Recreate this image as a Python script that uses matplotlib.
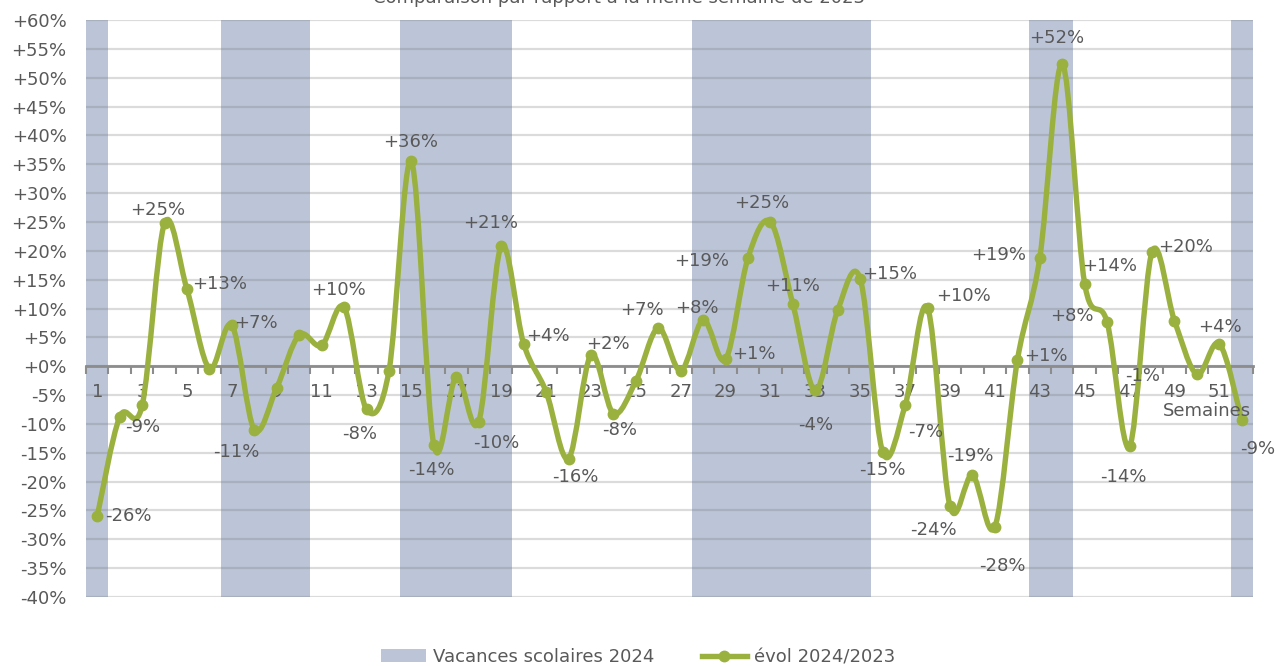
import matplotlib
matplotlib.use('Agg')
import matplotlib.pyplot as plt
from matplotlib.path import Path
from matplotlib.patches import PathPatch, Patch
from matplotlib.lines import Line2D
import numpy as np

# weekly change 2024 vs 2023 (%)
weeks = list(range(1, 53))
evol = [-26, -8.8, -6.8, 24.8, 13.3, -0.4, 7.1, -11.0, -3.7, 5.4,
        3.6, 10.2, -7.5, -0.8, 35.5, -13.7, -1.8, -9.6, 20.8, 3.9,
        -4.4, -16.0, 1.9, -8.2, -2.6, 6.6, -0.8, 8.0, 1.2, 18.8,
        25.0, 10.7, -4.2, 9.8, 15.1, -14.9, -6.8, 10.1, -24.3, -18.9,
        -27.8, 1.0, 18.8, 52.4, 14.3, 7.6, -13.9, 19.8, 7.9, -1.4,
        3.9, -9.3]

# school holidays 2024
vac_weeks = [1, 7, 8, 9, 10, 15, 16, 17, 18, 19,
             28, 29, 30, 31, 32, 33, 34, 35, 43, 44, 52]

y_ticks = list(range(-40, 61, 5))
x_labels = list(range(1, 53, 2))

# label offsets in pixels (dx, dy downwards) for labelled weeks
label_pos = {
    1: (31, 0), 2: (23, 10), 4: (-7, -13), 5: (33, -5), 7: (24, -2),
    8: (-18, 22), 12: (-6, -17), 13: (-7, 25), 15: (-1, -19),
    16: (-2, 25), 18: (18, 21), 19: (-11, -23), 20: (24, -8),
    22: (7, 18), 23: (17, -11), 24: (6, 16), 26: (-16, -18),
    28: (-6, -12), 29: (28, -5), 30: (-46, 3), 31: (-9, -19),
    32: (0, -18), 33: (0, 35), 35: (29, -5), 36: (0, 18),
    37: (21, 27), 38: (36, -12), 39: (-17, 24), 40: (-2, -19),
    41: (7, 39), 42: (29, -4), 43: (-41, -3), 44: (-6, -26),
    45: (25, -18), 46: (-35, -6), 47: (-6, 31), 48: (34, -5),
    50: (-54, 2), 51: (1, -17), 52: (16, 29),
}

GREEN = '#9BB13F'
BAND = '#BCC5D8'
TXT = '#595959'
AXIS = '#8C8C8C'


# Excel-like smoothed line: Catmull-Rom as bezier segments
def smooth_path(x, y):
    pts = np.column_stack([x, y]).astype(float)
    n = len(pts)
    verts = [pts[0]]
    codes = [Path.MOVETO]
    for i in range(n - 1):
        p0 = pts[i - 1] if i > 0 else pts[i]
        p1 = pts[i]
        p2 = pts[i + 1]
        p3 = pts[i + 2] if i + 2 < n else pts[i + 1]
        c1 = p1 + (p2 - p0) / 6
        c2 = p2 - (p3 - p1) / 6
        verts += [c1, c2, p2]
        codes += [Path.CURVE4] * 3
    return Path(verts, codes)


fig = plt.figure(figsize=(12.76, 6.66), dpi=100)
ax = fig.add_axes([86 / 1276, 69 / 666, 1167 / 1276, 577 / 666])

ax.bar(vac_weeks, [100] * len(vac_weeks), bottom=-40, width=1.0,
       color=BAND, zorder=1)

ax.set_xlim(0.5, 52.5)
ax.set_ylim(-40, 60)
ax.set_yticks(y_ticks)
ax.set_yticklabels([f'{v:+d}%' for v in y_ticks])
ax.yaxis.grid(True, color='#707070', alpha=0.25, linewidth=1.6)
ax.set_axisbelow('line')
ax.tick_params(axis='y', length=0, pad=14, labelsize=13, labelcolor=TXT)

# x axis crosses at 0
for s in ['left', 'right', 'top']:
    ax.spines[s].set_visible(False)
ax.spines['bottom'].set_position(('data', 0))
ax.spines['bottom'].set_color(AXIS)
ax.spines['bottom'].set_linewidth(2)
ax.spines['bottom'].set_zorder(2)
ax.set_xticks(np.arange(0.5, 53, 1))
ax.set_xticklabels([])
ax.tick_params(axis='x', which='major', length=6, width=1.5, color=AXIS)
ax.set_xticks(x_labels, minor=True)
ax.set_xticklabels([str(w) for w in x_labels], minor=True)
ax.tick_params(axis='x', which='minor', length=0, pad=12, labelsize=13,
               labelcolor=TXT)

ax.add_patch(PathPatch(smooth_path(weeks, evol), facecolor='none',
                       edgecolor=GREEN, linewidth=3.9, zorder=3,
                       capstyle='round', joinstyle='round'))
ax.plot(weeks, evol, linestyle='none', marker='o', markersize=7.5,
        color=GREEN, zorder=4)

for w, (dx, dy) in label_pos.items():
    v = evol[w - 1]
    ax.annotate(f'{round(v):+d}%', (w, v), xytext=(dx, -dy),
                textcoords='offset pixels', ha='center', va='center',
                fontsize=13, color=TXT, zorder=5, annotation_clip=False)

ax.text(52.4, -7.8, 'Semaines', ha='right', va='center', fontsize=13,
        color=TXT, zorder=5)

# title sits mostly above the visible area, as in the source image
fig.text(619 / 1276, 1 - 3 / 666,
         'Comparaison par rapport à la même semaine de 2023',
         ha='center', va='baseline', fontsize=13, color=TXT)

handles = [Patch(facecolor=BAND, edgecolor='none'),
           Line2D([], [], color=GREEN, linewidth=3.9, marker='o',
                  markersize=7.5)]
fig.legend(handles, ['Vacances scolaires 2024', 'évol 2024/2023'],
           loc='center', bbox_to_anchor=(0.5, 9 / 666), ncol=2,
           frameon=False, fontsize=13, labelcolor=TXT, handlelength=2.5,
           handletextpad=0.4, columnspacing=2.6)

fig.savefig('out.png', dpi=100)
